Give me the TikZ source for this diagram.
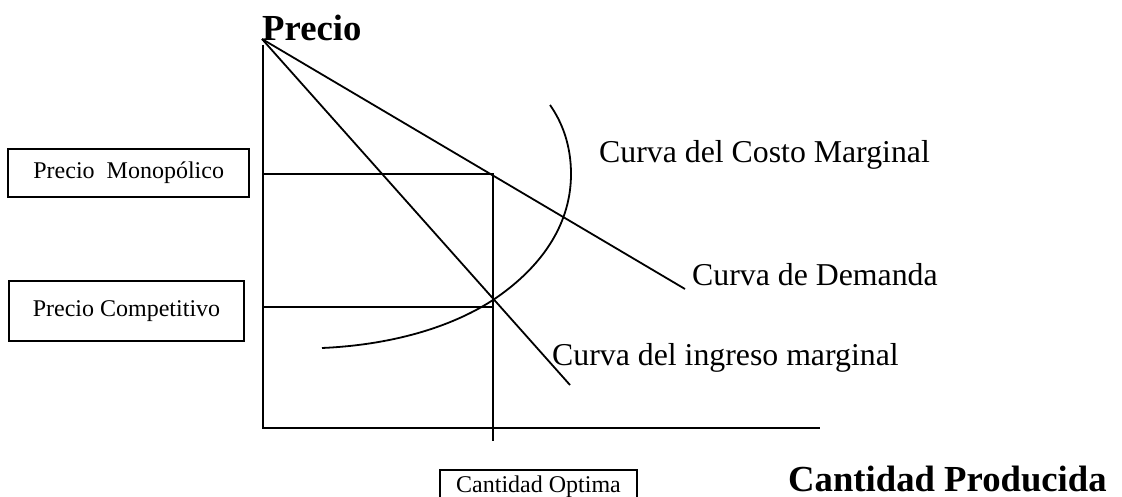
\documentclass[tikz,border=0pt]{standalone}
\usepackage{fontspec}
\setmainfont{Liberation Serif}
\begin{document}
\begin{tikzpicture}[x=1pt,y=-1pt,
  ln/.style={line width=1.8pt, line join=miter},
  boxlbl/.style={draw, line width=1.8pt, inner sep=0pt, font=\fontsize{24}{26}\selectfont},
  curvelbl/.style={anchor=base west, inner sep=0pt, font=\fontsize{31.8}{34}\selectfont},
  axislbl/.style={anchor=base west, inner sep=0pt, text depth=0pt, font=\fontsize{36.7}{40}\selectfont\bfseries}]
\useasboundingbox (0,0) rectangle (1122,497);
% key coordinates
\coordinate (apex) at (262,39);
\coordinate (ytop) at (263,45);
\coordinate (origin) at (263,428);
\coordinate (xend) at (820,428);
\coordinate (dend) at (685,289);
\coordinate (mrend) at (570,385);
\coordinate (pm) at (263,174);
\coordinate (qm) at (493,174);
\coordinate (pc) at (263,307);
\coordinate (qc) at (493,307);
\coordinate (qbot) at (493,441);
\coordinate (mcstart) at (322,348);
\coordinate (mcx) at (493,300);
\coordinate (mcright) at (571,174);
\coordinate (mctop) at (550,105);
% axes
\draw[ln] (ytop) -- (origin) -- (xend);
% demand and marginal revenue
\draw[ln] (apex) -- (dend);
\draw[ln] (apex) -- (mrend);
% guide lines
\draw[ln] (pm) -- (qm) -- (qbot);
\draw[ln] (pc) -- (qc);
% marginal cost curve
\draw[ln] (mcstart) .. controls (390,345) and (450,328) .. (mcx)
  .. controls (535,272) and (571,230) .. (mcright)
  .. controls (571,145) and (562,122) .. (mctop);
% labels
\node[axislbl] (lprecio) at (262,41) {Precio};
\node[axislbl] (lcant) at (788,491) {Cantidad Producida};
\node[curvelbl] (lcm) at (599,163) {Curva del Costo Marginal};
\node[curvelbl] (ldem) at (692,285) {Curva de Demanda};
\node[curvelbl] (lim) at (552,365) {Curva del ingreso marginal};
% boxes
\node[boxlbl, minimum width=241pt, minimum height=48pt] (bmon) at (128.7,173) {Precio\ \ Monopólico};
\node[boxlbl, minimum width=235pt, minimum height=60pt] (bcomp) at (126.5,311) {Precio Competitivo};
\node[boxlbl, minimum width=197pt, minimum height=34pt] (bopt) at (538.5,487) {Cantidad Optima};
\end{tikzpicture}
\end{document}
